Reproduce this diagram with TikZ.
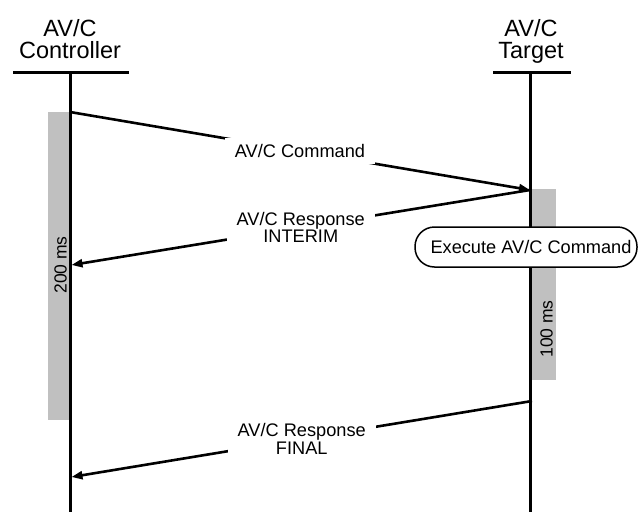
\documentclass[tikz,border=0pt]{standalone}
\usepackage{fontspec}
\setmainfont{Liberation Sans}
\usetikzlibrary{arrows.meta}
\definecolor{busygray}{HTML}{C0C0C0}
\begin{document}
\begin{tikzpicture}[x=1pt,y=-1pt,
  party/.style={font=\fontsize{23.5}{21.5}\selectfont, inner sep=0pt, anchor=base},
  headbar/.style={line width=3.5pt},
  lifeline/.style={line width=3pt},
  busy/.style={fill=busygray},
  busylabel/.style={font=\fontsize{17.5}{17.5}\selectfont, rotate=90, inner sep=0pt},
  msg/.style={line width=2.6pt, -{Triangle[length=11pt,width=8pt]}},
  msglabel/.style={fill=white, font=\fontsize{18.2}{15}\selectfont, align=center,
    inner xsep=10pt, inner ysep=6pt},
  action/.style={draw, line width=1.5pt, fill=white, rounded corners=19.5pt,
    minimum width=222pt, minimum height=40pt, inner sep=0pt,
    font=\fontsize{18.2}{18.2}\selectfont}
]
\useasboundingbox (0,0) rectangle (638,512);

% participant titles
\node[party] (ctrlA) at (70,36.7) {AV/C};
\node[party] (ctrlB) at (70,58) {Controller};
\node[party] (tgtA) at (531,36.7) {AV/C};
\node[party] (tgtB) at (531,58) {Target};

% activity periods
\fill[busy] (48,112) rectangle (70,420);
\fill[busy] (530,189) rectangle (556,380);
\node[busylabel] (t200) at (60.5,265) {200 ms};
\node[busylabel] (t100) at (546.5,329) {100 ms};

% header bars and lifelines
\draw[headbar] (13,72.5) -- (129,72.5);
\draw[headbar] (493,72.5) -- (571,72.5);
\coordinate (ctrlTop) at (70,72);
\coordinate (ctrlBot) at (70,512);
\coordinate (tgtTop) at (530,72);
\coordinate (tgtBot) at (530,512);
\draw[lifeline] (ctrlTop) -- (ctrlBot);
\draw[lifeline] (tgtTop) -- (tgtBot);

% message end points on the lifelines
\coordinate (cmdOut) at (70,112);
\coordinate (cmdIn) at (530,190);
\coordinate (intOut) at (530,190);
\coordinate (intIn) at (71.5,265);
\coordinate (finOut) at (532,401);
\coordinate (finIn) at (71.5,477);

% messages
\draw[msg] (cmdOut) -- (cmdIn) node[msglabel, pos=0.5] (cmdLbl) {AV/C Command};
\draw[msg] (intOut) -- (intIn) node[msglabel, pos=0.5] (intLbl) {AV/C Response\\INTERIM};
\draw[msg] (finOut) -- (finIn) node[msglabel, pos=0.5] (finLbl) {AV/C Response\\FINAL};

% processing step on the target
\node[action] (exec) at (526,247) {\hspace*{10pt}Execute AV/C Command};
\end{tikzpicture}
\end{document}
